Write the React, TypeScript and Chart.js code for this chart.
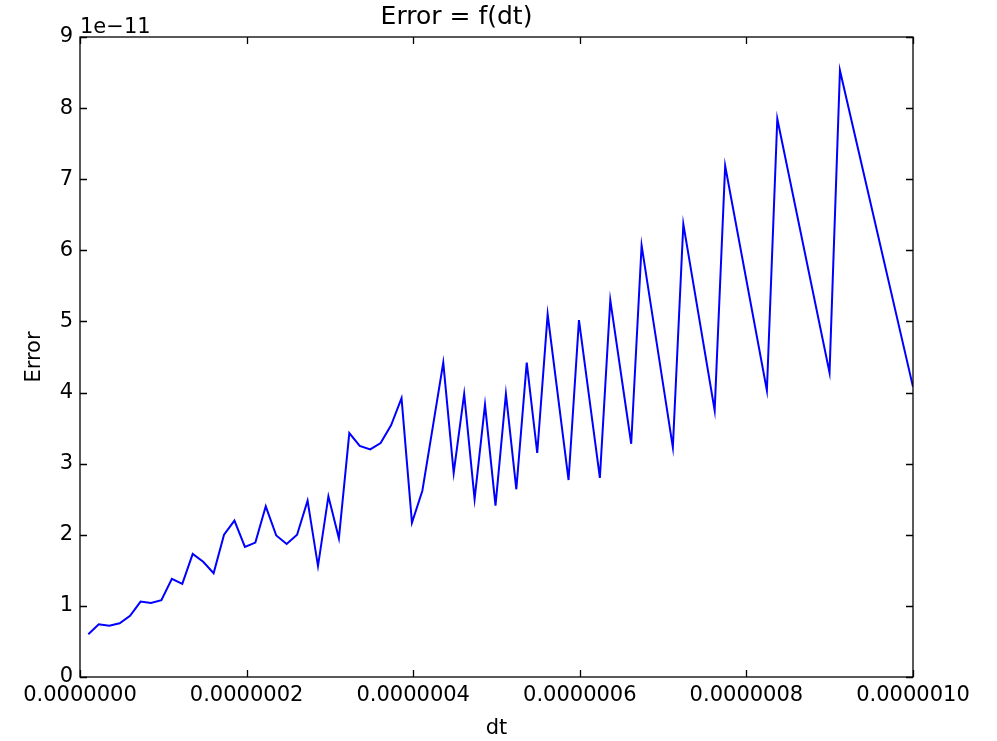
import React, { useEffect, useRef } from "react";
import { Chart, registerables } from "chart.js";

Chart.register(...registerables);

// dt values (seconds) at the polyline vertices
const dtValues: number[] = [
  1.0e-8, 2.25e-8, 3.51e-8, 4.76e-8, 6.01e-8, 7.27e-8, 8.52e-8, 9.77e-8,
  1.103e-7, 1.228e-7, 1.353e-7, 1.479e-7, 1.604e-7, 1.729e-7, 1.854e-7, 1.98e-7,
  2.105e-7, 2.23e-7, 2.356e-7, 2.481e-7, 2.606e-7, 2.732e-7, 2.857e-7, 2.982e-7,
  3.108e-7, 3.233e-7, 3.358e-7, 3.484e-7, 3.609e-7, 3.734e-7, 3.86e-7, 3.985e-7,
  4.11e-7, 4.236e-7, 4.361e-7, 4.486e-7, 4.612e-7, 4.737e-7, 4.862e-7, 4.988e-7,
  5.113e-7, 5.238e-7, 5.363e-7, 5.489e-7, 5.614e-7, 5.865e-7, 5.99e-7, 6.241e-7,
  6.366e-7, 6.617e-7, 6.742e-7, 7.117e-7, 7.243e-7, 7.619e-7, 7.745e-7, 8.246e-7,
  8.371e-7, 8.998e-7, 9.123e-7, 1.0e-6,
];

// Error values in units of 1e-11
const errorValues: number[] = [
  0.6, 0.74, 0.72, 0.755, 0.86, 1.06, 1.04, 1.08,
  1.38, 1.31, 1.73, 1.62, 1.46, 2.0, 2.2, 1.83,
  1.89, 2.4, 1.99, 1.87, 2.0, 2.48, 1.56, 2.54,
  1.95, 3.43, 3.25, 3.2, 3.29, 3.54, 3.92, 2.17,
  2.62, 3.52, 4.42, 2.87, 3.98, 2.5, 3.83, 2.41,
  3.98, 2.64, 4.42, 3.15, 5.1, 2.77, 5.02, 2.8,
  5.3, 3.28, 6.07, 3.23, 6.37, 3.75, 7.19, 4.03,
  7.85, 4.28, 8.53, 4.08,
];

const xTicks: number[] = [0, 2e-7, 4e-7, 6e-7, 8e-7, 1e-6];
const yTicks: number[] = [0, 1, 2, 3, 4, 5, 6, 7, 8, 9];
const yOffsetText = "1e\u221211";
const titleText = "Error = f(dt)";
const xLabel = "dt";
const yLabel = "Error";

const FONT = "'DejaVu Sans', sans-serif";

const framePlugin = {
  id: "mplFrame",
  afterDraw(chart: any) {
    const { ctx, chartArea, scales } = chart;
    const { left, right, top, bottom } = chartArea;
    const tl = 7;
    ctx.save();
    ctx.strokeStyle = "#000";
    ctx.lineWidth = 1.3;
    ctx.beginPath();
    for (const v of xTicks) {
      const px = Math.round(scales.x.getPixelForValue(v)) + 0.5;
      ctx.moveTo(px, bottom);
      ctx.lineTo(px, bottom - tl);
      ctx.moveTo(px, top);
      ctx.lineTo(px, top + tl);
    }
    for (const v of yTicks) {
      const py = Math.round(scales.y.getPixelForValue(v)) + 0.5;
      ctx.moveTo(left, py);
      ctx.lineTo(left + tl, py);
      ctx.moveTo(right, py);
      ctx.lineTo(right - tl, py);
    }
    ctx.stroke();
    ctx.strokeRect(left, top, right - left, bottom - top);
    ctx.fillStyle = "#000";
    ctx.font = `21px ${FONT}`;
    ctx.textAlign = "left";
    ctx.textBaseline = "alphabetic";
    ctx.fillText(yOffsetText, left, top - 4);
    ctx.restore();
  },
};

export default function App() {
  const ref = useRef<HTMLCanvasElement | null>(null);
  useEffect(() => {
    document.body.style.margin = "0";
    const canvas = ref.current;
    if (!canvas) return;
    const data = dtValues.map((x, i) => ({ x, y: errorValues[i] }));
    const chart = new Chart(canvas, {
      type: "scatter",
      data: {
        datasets: [
          {
            data,
            showLine: true,
            borderColor: "#0000ff",
            borderWidth: 2,
            pointRadius: 0,
            tension: 0,
            fill: false,
          },
        ],
      },
      options: {
        responsive: false,
        animation: false,
        devicePixelRatio: 1,
        layout: { padding: { left: 0, right: 84, top: 0, bottom: 0 } },
        plugins: {
          legend: { display: false },
          tooltip: { enabled: false },
          title: {
            display: true,
            text: titleText,
            color: "#000",
            font: { family: FONT, size: 25, weight: "normal" },
            padding: { top: 2, bottom: 5 },
          },
        },
        scales: {
          x: {
            type: "linear",
            min: 0,
            max: 1e-6,
            afterBuildTicks: (scale: any) => {
              scale.ticks = xTicks.map((v) => ({ value: v }));
            },
            afterFit: (scale: any) => {
              scale.height = 64;
            },
            grid: { drawOnChartArea: false, drawTicks: false, color: "rgba(0,0,0,0)" },
            border: { display: false },
            ticks: {
              color: "#000",
              font: { family: FONT, size: 21 },
              padding: 6,
              maxRotation: 0,
              autoSkip: false,
              callback: (v: any) => Number(v).toFixed(7),
            },
            title: {
              display: true,
              text: xLabel,
              color: "#000",
              font: { family: FONT, size: 21 },
              padding: { top: 0, bottom: 0 },
            },
          },
          y: {
            type: "linear",
            min: 0,
            max: 9,
            afterBuildTicks: (scale: any) => {
              scale.ticks = yTicks.map((v) => ({ value: v }));
            },
            afterFit: (scale: any) => {
              scale.width = 80;
            },
            grid: { drawOnChartArea: false, drawTicks: false, color: "rgba(0,0,0,0)" },
            border: { display: false },
            ticks: {
              color: "#000",
              font: { family: FONT, size: 21 },
              padding: 7,
              autoSkip: false,
              callback: (v: any) => String(v),
            },
            title: {
              display: true,
              text: yLabel,
              color: "#000",
              font: { family: FONT, size: 21 },
              padding: { top: 22, bottom: 0 },
            },
          },
        },
      },
      plugins: [framePlugin],
    } as any);
    return () => chart.destroy();
  }, []);
  return (
    <div style={{ width: 997, height: 741, background: "#fff" }}>
      <canvas ref={ref} width={997} height={741} style={{ display: "block" }} />
    </div>
  );
}
